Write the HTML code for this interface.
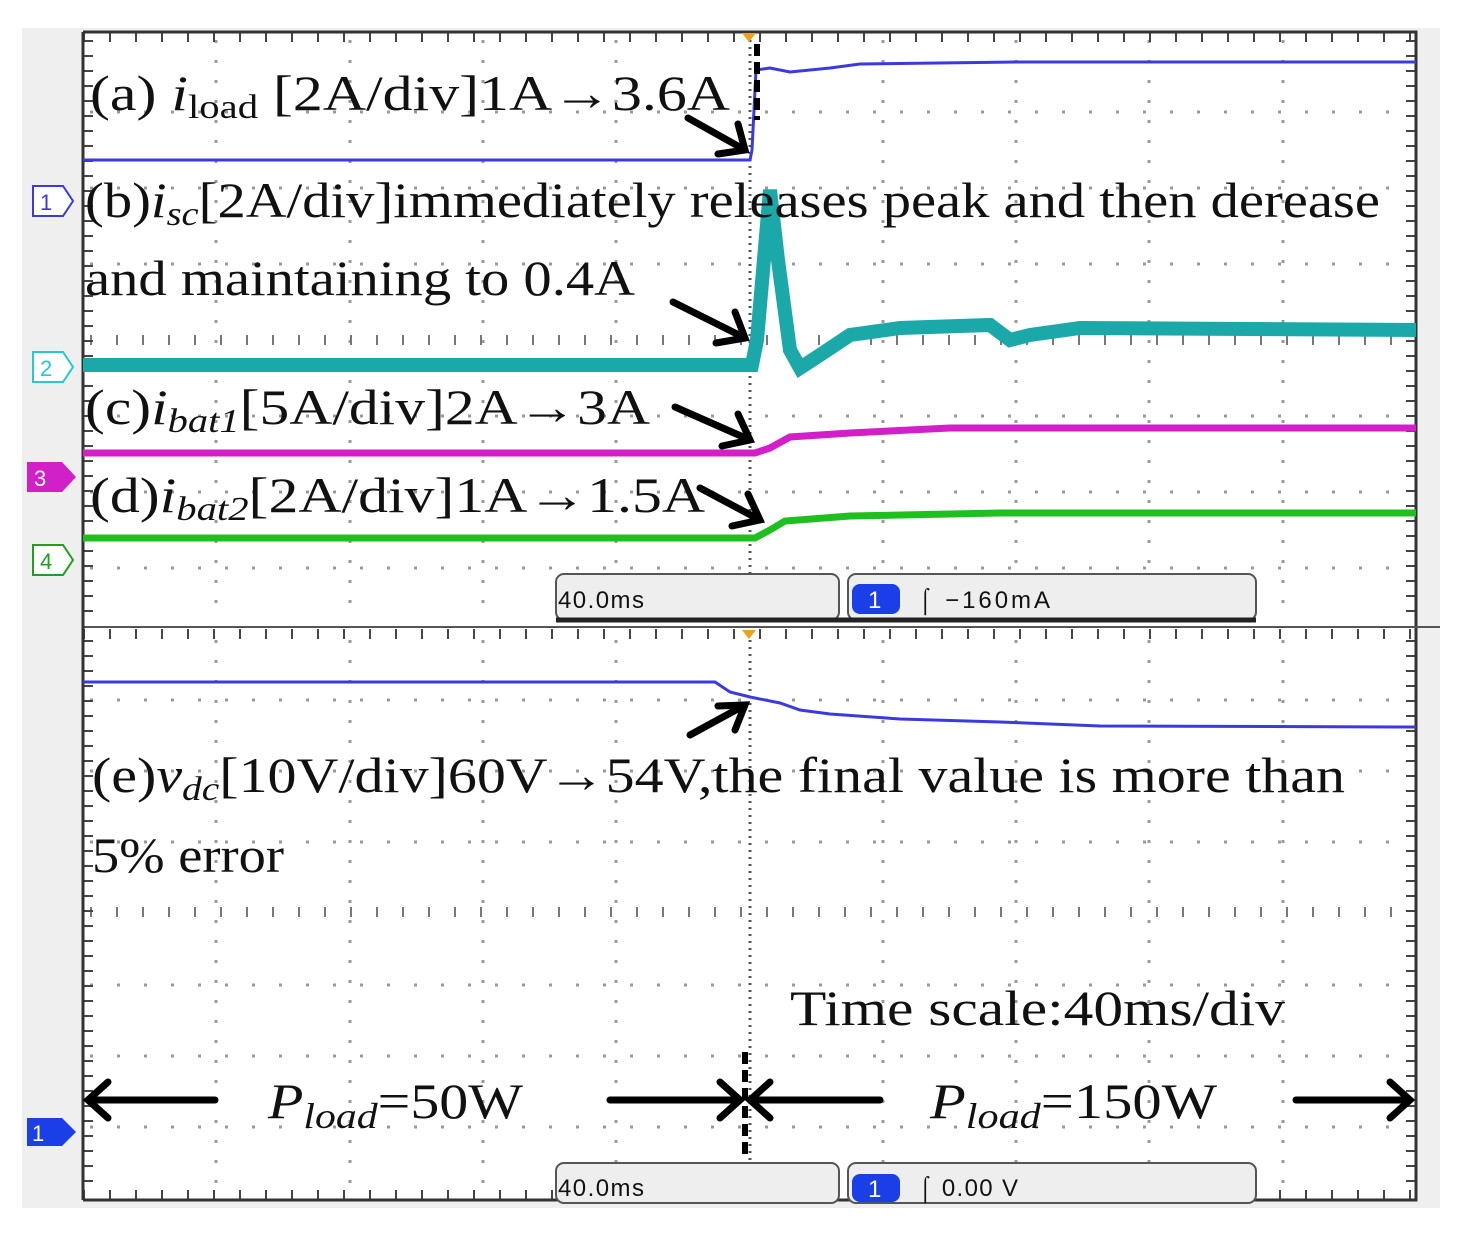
<!DOCTYPE html>
<html><head><style>
html,body{margin:0;padding:0;background:#fff;}
svg{display:block;}
text{font-family:"Liberation Serif",serif;fill:#111;}
</style></head><body>
<svg width="1457" height="1233" viewBox="0 0 1457 1233" xmlns="http://www.w3.org/2000/svg">
<rect x="22" y="28" width="1418" height="1180" fill="#efefef"/>
<rect x="83" y="32" width="1333" height="1168" fill="#fff"/>
<g fill="#888">
<!-- vertical dotted grid -->
<g id="vd">
</g>
</g>
<g stroke="#999" stroke-width="3" stroke-dasharray="3 17">
<line x1="216" y1="40" x2="216" y2="620"/><line x1="350" y1="40" x2="350" y2="620"/><line x1="483" y1="40" x2="483" y2="620"/><line x1="616" y1="40" x2="616" y2="620"/><line x1="883" y1="40" x2="883" y2="620"/><line x1="1016" y1="40" x2="1016" y2="620"/><line x1="1149" y1="40" x2="1149" y2="620"/><line x1="1283" y1="40" x2="1283" y2="620"/>
<line x1="216" y1="640" x2="216" y2="1195"/><line x1="350" y1="640" x2="350" y2="1195"/><line x1="483" y1="640" x2="483" y2="1195"/><line x1="616" y1="640" x2="616" y2="1195"/><line x1="883" y1="640" x2="883" y2="1195"/><line x1="1016" y1="640" x2="1016" y2="1195"/><line x1="1149" y1="640" x2="1149" y2="1195"/><line x1="1283" y1="640" x2="1283" y2="1195"/>
</g>
<g stroke="#999" stroke-width="3" stroke-dasharray="3 24">
<line x1="90" y1="112" x2="1410" y2="112"/><line x1="90" y1="188" x2="1410" y2="188"/><line x1="90" y1="264" x2="1410" y2="264"/><line x1="90" y1="416" x2="1410" y2="416"/><line x1="90" y1="492" x2="1410" y2="492"/><line x1="90" y1="568" x2="1410" y2="568"/>
<line x1="90" y1="700" x2="1410" y2="700"/><line x1="90" y1="771" x2="1410" y2="771"/><line x1="90" y1="842" x2="1410" y2="842"/><line x1="90" y1="985" x2="1410" y2="985"/><line x1="90" y1="1056" x2="1410" y2="1056"/><line x1="90" y1="1127" x2="1410" y2="1127"/>
</g>
<!-- center tick lines -->
<g stroke="#777" stroke-width="2" stroke-dasharray="2 24">
<line x1="90" y1="340" x2="1410" y2="340" stroke-width="10"/>
<line x1="90" y1="912" x2="1410" y2="912" stroke-width="10"/>
</g>
<g stroke="#555" stroke-width="3" stroke-dasharray="2 5">
<line x1="750" y1="40" x2="750" y2="620"/>
<line x1="750" y1="640" x2="750" y2="1195"/>
</g>
<!-- edge ticks -->
<g stroke="#444" stroke-width="2" stroke-dasharray="2 24">
<line x1="83" y1="37" x2="1416" y2="37" stroke-width="10"/>
<line x1="83" y1="634" x2="1416" y2="634" stroke-width="10"/>
<line x1="83" y1="1195" x2="1416" y2="1195" stroke-width="10"/>
</g>
<g stroke="#444" stroke-width="10" stroke-dasharray="2 13">
<line x1="88" y1="40" x2="88" y2="620"/><line x1="1411" y1="40" x2="1411" y2="620"/>
<line x1="88" y1="640" x2="88" y2="1195"/><line x1="1411" y1="640" x2="1411" y2="1195"/>
</g>
<rect x="83" y="32" width="1333" height="1168" fill="none" stroke="#333" stroke-width="3"/>
<line x1="22" y1="627" x2="1440" y2="627" stroke="#555" stroke-width="2"/>
<rect x="22" y="28" width="61" height="1180" fill="#efefef"/>
<line x1="83" y1="32" x2="83" y2="1200" stroke="#333" stroke-width="3"/>
<!-- traces -->
<polyline fill="none" stroke="#3a3ae0" stroke-width="3" points="83,160 750,160 752,150 756,70 770,68 790,72 830,68 860,64 1020,62 1416,62"/>
<polyline fill="none" stroke="#1aa8a8" stroke-width="14" points="83,365 752,365 757,340 770,190 778,260 790,350 800,368 820,355 850,335 900,328 990,325 1010,340 1030,335 1080,328 1416,330"/>
<polyline fill="none" stroke="#d21fc8" stroke-width="7" points="83,453 755,453 770,448 790,437 850,433 950,428 1416,428"/>
<polyline fill="none" stroke="#1fbf1f" stroke-width="7" points="83,538 755,538 770,530 785,521 850,516 1000,513 1416,513"/>
<polyline fill="none" stroke="#3a3ae0" stroke-width="3" points="83,682 715,682 730,692 750,697 780,703 800,710 830,714 900,719 1000,722 1100,726 1416,727"/>
<!-- trigger markers -->
<polygon points="742,33 756,33 749,42" fill="#f0a020"/>
<polygon points="742,630 756,630 749,639" fill="#f0a020"/>
<!-- dashed black vertical -->
<line x1="757" y1="44" x2="757" y2="120" stroke="#000" stroke-width="6" stroke-dasharray="12 6"/>
<line x1="745" y1="1052" x2="745" y2="1158" stroke="#000" stroke-width="6" stroke-dasharray="12 6"/>
<!-- channel markers -->
<g font-family="Liberation Sans" font-size="22">
<polygon points="33,186 63,186 73,201 63,216 33,216" fill="#fff" stroke="#3a3ae0" stroke-width="2"/><text x="40" y="210" style="fill:#3a3ae0;font-family:'Liberation Sans',sans-serif">1</text>
<polygon points="33,352 63,352 73,367 63,382 33,382" fill="#fff" stroke="#22cccc" stroke-width="2"/><text x="40" y="376" style="fill:#22cccc;font-family:'Liberation Sans',sans-serif">2</text>
<polygon points="27,462 62,462 76,477 62,492 27,492" fill="#d21fc8"/><text x="34" y="486" style="fill:#fff;font-family:'Liberation Sans',sans-serif">3</text>
<polygon points="33,545 63,545 73,560 63,575 33,575" fill="#fff" stroke="#1fa01f" stroke-width="2"/><text x="40" y="569" style="fill:#1fa01f;font-family:'Liberation Sans',sans-serif">4</text>
<polygon points="27,1118 62,1118 76,1132 62,1146 27,1146" fill="#1a3ee8"/><text x="32" y="1141" style="fill:#fff;font-family:'Liberation Sans',sans-serif">1</text>
</g>
<!-- status boxes -->
<g font-family="Liberation Sans" font-size="24">
<rect x="556" y="574" width="283" height="46" rx="8" fill="#eee" stroke="#555" stroke-width="2"/>
<rect x="848" y="574" width="408" height="46" rx="8" fill="#eee" stroke="#555" stroke-width="2"/>
<line x1="556" y1="620" x2="1256" y2="620" stroke="#222" stroke-width="5"/>
<text x="558" y="608" style="font-family:'Liberation Sans Narrow','Liberation Sans',sans-serif" textLength="86">40.0ms</text>
<rect x="852" y="584" width="48" height="30" rx="8" fill="#1a3ee8"/><text x="868" y="608" style="fill:#fff;font-family:'Liberation Sans',sans-serif">1</text>
<text x="918" y="608" style="font-family:'Liberation Sans Narrow','Liberation Sans',sans-serif" textLength="132">⌠ −160mA</text>
<rect x="556" y="1163" width="283" height="40" rx="8" fill="#eee" stroke="#555" stroke-width="2"/>
<rect x="848" y="1163" width="408" height="40" rx="8" fill="#eee" stroke="#555" stroke-width="2"/>
<text x="558" y="1196" style="font-family:'Liberation Sans Narrow','Liberation Sans',sans-serif" textLength="86">40.0ms</text>
<rect x="852" y="1174" width="48" height="28" rx="8" fill="#1a3ee8"/><text x="868" y="1197" style="fill:#fff;font-family:'Liberation Sans',sans-serif">1</text>
<text x="918" y="1196" style="font-family:'Liberation Sans Narrow','Liberation Sans',sans-serif" textLength="100">⌠ 0.00 V</text>
</g>
<!-- labels -->
<g font-size="50">
<text x="90" y="110" textLength="640" lengthAdjust="spacingAndGlyphs">(a) <tspan font-style="italic">i</tspan><tspan font-size="34" dy="8">load</tspan><tspan dy="-8"> [2A/div]1A→3.6A</tspan></text>
<text x="85" y="217" textLength="1295" lengthAdjust="spacingAndGlyphs">(b)<tspan font-style="italic">i</tspan><tspan font-style="italic" font-size="34" dy="8">sc</tspan><tspan dy="-8">[2A/div]immediately releases peak and then derease</tspan></text>
<text x="85" y="295" textLength="550" lengthAdjust="spacingAndGlyphs">and maintaining to 0.4A</text>
<text x="85" y="424" textLength="565" lengthAdjust="spacingAndGlyphs">(c)<tspan font-style="italic">i</tspan><tspan font-style="italic" font-size="34" dy="8">bat1</tspan><tspan dy="-8">[5A/div]2A→3A</tspan></text>
<text x="90" y="512" textLength="615" lengthAdjust="spacingAndGlyphs">(d)<tspan font-style="italic">i</tspan><tspan font-style="italic" font-size="34" dy="8">bat2</tspan><tspan dy="-8">[2A/div]1A→1.5A</tspan></text>
<text x="92" y="792" textLength="1253" lengthAdjust="spacingAndGlyphs">(e)<tspan font-style="italic">v</tspan><tspan font-style="italic" font-size="34" dy="8">dc</tspan><tspan dy="-8">[10V/div]60V→54V,the final value is more than</tspan></text>
<text x="92" y="872" textLength="192" lengthAdjust="spacingAndGlyphs">5% error</text>
<text x="790" y="1025" textLength="495" lengthAdjust="spacingAndGlyphs">Time scale:40ms/div</text>
<text x="268" y="1118" textLength="255" lengthAdjust="spacingAndGlyphs"><tspan font-style="italic">P</tspan><tspan font-style="italic" font-size="36" dy="10">load</tspan><tspan dy="-10">=50W</tspan></text>
<text x="930" y="1118" textLength="287" lengthAdjust="spacingAndGlyphs"><tspan font-style="italic">P</tspan><tspan font-style="italic" font-size="36" dy="10">load</tspan><tspan dy="-10">=150W</tspan></text>
</g>
<!-- arrows -->
<g stroke="#000" stroke-width="7" fill="none" stroke-linecap="round">
<path d="M688,118 L745,150 M718,154 L745,150 L738,124"/>
<path d="M673,302 L745,338 M716,343 L745,338 L735,312"/>
<path d="M675,407 L750,440 M722,446 L750,440 L738,414"/>
<path d="M700,488 L760,520 M732,526 L760,520 L748,494"/>
<path d="M690,735 L745,705 M735,730 L745,705 L718,706"/>
<path d="M88,1100 L215,1100 M108,1082 L88,1100 L108,1118"/>
<path d="M610,1100 L740,1100 M720,1082 L740,1100 L720,1118"/>
<path d="M750,1100 L880,1100 M770,1082 L750,1100 L770,1118"/>
<path d="M1296,1100 L1410,1100 M1390,1082 L1410,1100 L1390,1118"/>
</g>
</svg>
</body></html>
